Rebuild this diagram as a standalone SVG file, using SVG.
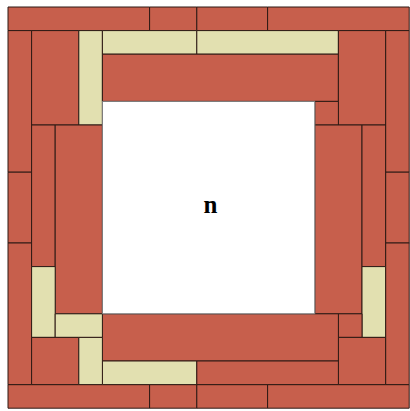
<svg xmlns="http://www.w3.org/2000/svg" width="410" height="411" viewBox="0 0 410 411">
<style>
.r{fill:#c75f4c;stroke:#2e1a14;stroke-width:1;vector-effect:non-scaling-stroke}
.y{fill:#e2e0b0;stroke:#2e1a14;stroke-width:1;vector-effect:non-scaling-stroke}
.w{fill:#ffffff;stroke:#777;stroke-width:1;vector-effect:non-scaling-stroke}
.t{font-family:"Liberation Serif","Times New Roman",serif;font-weight:bold;font-size:25px;fill:#000}
</style>
<rect width="410" height="411" fill="#fff"/>
<g transform="translate(8,7) scale(23.6)">
<g id="outer">
<rect id="t1" class="r" x="0" y="0" width="6" height="1"/>
<rect id="t2" class="r" x="6" y="0" width="2" height="1"/>
<rect id="t3" class="r" x="8" y="0" width="3" height="1"/>
<rect id="t4" class="r" x="11" y="0" width="6" height="1"/>
<rect id="b1" class="r" x="0" y="16" width="6" height="1"/>
<rect id="b2" class="r" x="6" y="16" width="2" height="1"/>
<rect id="b3" class="r" x="8" y="16" width="3" height="1"/>
<rect id="b4" class="r" x="11" y="16" width="6" height="1"/>
<rect id="l1" class="r" x="0" y="1" width="1" height="6"/>
<rect id="l2" class="r" x="0" y="7" width="1" height="3"/>
<rect id="l3" class="r" x="0" y="10" width="1" height="6"/>
<rect id="rr1" class="r" x="16" y="1" width="1" height="6"/>
<rect id="rr2" class="r" x="16" y="7" width="1" height="3"/>
<rect id="rr3" class="r" x="16" y="10" width="1" height="6"/>
</g>
<g id="top">
<rect id="tl-red" class="r" x="1" y="1" width="2" height="4"/>
<rect id="tl-yv" class="y" x="3" y="1" width="1" height="4"/>
<rect id="t-y1" class="y" x="4" y="1" width="4" height="1"/>
<rect id="t-y2" class="y" x="8" y="1" width="6" height="1"/>
<rect id="t-band" class="r" x="4" y="2" width="10" height="2"/>
<rect id="tr-red" class="r" x="14" y="1" width="2" height="4"/>
<rect id="tr-small" class="r" x="13" y="4" width="1" height="1"/>
</g>
<g id="right">
<rect id="r-band" class="r" x="13" y="5" width="2" height="8"/>
<rect id="r-thin" class="r" x="15" y="5" width="1" height="6"/>
<rect id="r-yv" class="y" x="15" y="11" width="1" height="3"/>
<rect id="r-small" class="r" x="14" y="13" width="1" height="1"/>
<rect id="br-red" class="r" x="14" y="14" width="2" height="2"/>
</g>
<g id="bottom">
<rect id="b-band" class="r" x="4" y="13" width="10" height="2"/>
<rect id="b-y" class="y" x="4" y="15" width="4" height="1"/>
<rect id="b-red" class="r" x="8" y="15" width="6" height="1"/>
</g>
<g id="left">
<rect id="l-thin" class="r" x="1" y="5" width="1" height="6"/>
<rect id="l-band" class="r" x="2" y="5" width="2" height="8"/>
<rect id="l-yv" class="y" x="1" y="11" width="1" height="3"/>
<rect id="l-yh" class="y" x="2" y="13" width="2" height="1"/>
<rect id="bl-red" class="r" x="1" y="14" width="2" height="2"/>
<rect id="bl-yv" class="y" x="3" y="14" width="1" height="2"/>
</g>
<g id="center">
<rect class="w" x="4" y="4" width="9" height="9"/>
</g>
</g>
<g id="n">
<text class="t" x="210.5" y="213" text-anchor="middle">n</text>
</g>
</svg>
